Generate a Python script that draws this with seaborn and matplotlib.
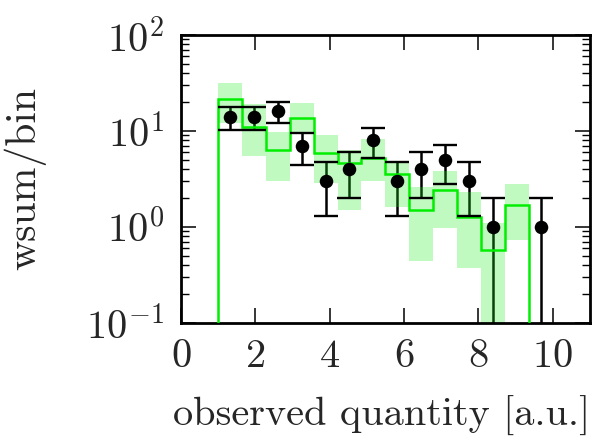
import numpy as np
import matplotlib
matplotlib.use("Agg")
import matplotlib.pyplot as plt
import seaborn as sns

# bin edges (14 bins from 1 to 10)
edges = [1.0, 1.643, 2.286, 2.929, 3.571, 4.214, 4.857, 5.5,
         6.143, 6.786, 7.429, 8.071, 8.714, 9.357, 10.0]

# observed data (black points) and their errors
data = [14, 14, 16, 7, 3, 4, 8, 3, 4, 5, 3, 1, 0, 1]
data_err = [3.7, 3.7, 4.0, 2.6, 1.7, 2.0, 2.8, 1.7, 2.0, 2.2, 1.7, 1.0, 0.0, 1.0]

# prediction (green step) and its uncertainty band, first 13 bins
pred = [21.5, 11.0, 6.3, 13.5, 5.9, 4.6, 5.2, 3.6, 1.5, 2.4, 1.28, 0.58, 1.7]
pred_hi = [31.5, 19.0, 9.8, 19.5, 9.1, 6.3, 8.2, 4.8, 2.6, 3.8, 2.3, 1.1, 2.8]
pred_lo = [12.0, 5.5, 3.0, 9.5, 2.9, 1.5, 3.0, 1.6, 0.44, 0.97, 0.37, 0.01, 0.73]

sns.set_theme(style="ticks")
plt.rcParams["font.family"] = ["cmr10", "DejaVu Serif"]
plt.rcParams["mathtext.fontset"] = "cm"
plt.rcParams["axes.formatter.use_mathtext"] = True
plt.rcParams["axes.unicode_minus"] = False

edges = np.array(edges)
centers = (edges[:-1] + edges[1:]) / 2

fig = plt.figure(figsize=(6.03, 4.38), dpi=100)
ax = fig.add_axes([0.300, 0.263, 0.678, 0.657])
ax.set_yscale("log")

# uncertainty band
ax.stairs(pred_hi, edges[:14], baseline=pred_lo, fill=True,
          color="#22ee22", alpha=0.28, lw=0, zorder=2.5)
# prediction line
ax.stairs(pred, edges[:14], baseline=1e-4, color="#00ee00", lw=1.8, zorder=2.6)

# data error bars
line, caps, bars = ax.errorbar(centers, data, yerr=data_err, fmt="none",
                               ecolor="black", elinewidth=1.8, capsize=8.6,
                               capthick=1.7)
for b in bars:
    b.set_zorder(2)
for c in caps:
    c.set_zorder(3)
sns.scatterplot(x=centers, y=data, color="black", s=95, edgecolor="black",
                linewidth=0, ax=ax, zorder=4)

ax.set_xlim(0, 11)
ax.set_ylim(0.1, 100)
ax.set_xticks([0, 2, 4, 6, 8, 10])
ax.tick_params(which="both", direction="in", top=True, right=True,
               labelsize=29, color="black")
ax.tick_params(which="major", length=11, width=1.1, pad=12)
ax.tick_params(which="minor", length=6, width=1.0)
ax.tick_params(axis="x", which="minor", bottom=False, top=False)
for s in ax.spines.values():
    s.set_linewidth(2.0)
    s.set_color("black")

ax.set_xlabel("observed quantity [a.u.]", fontsize=29)
ax.set_ylabel("wsum/bin", fontsize=30)
ax.xaxis.set_label_coords(0.49, -0.255)
ax.yaxis.set_label_coords(-0.33, 0.5)

fig.savefig("out.png", dpi=100)
